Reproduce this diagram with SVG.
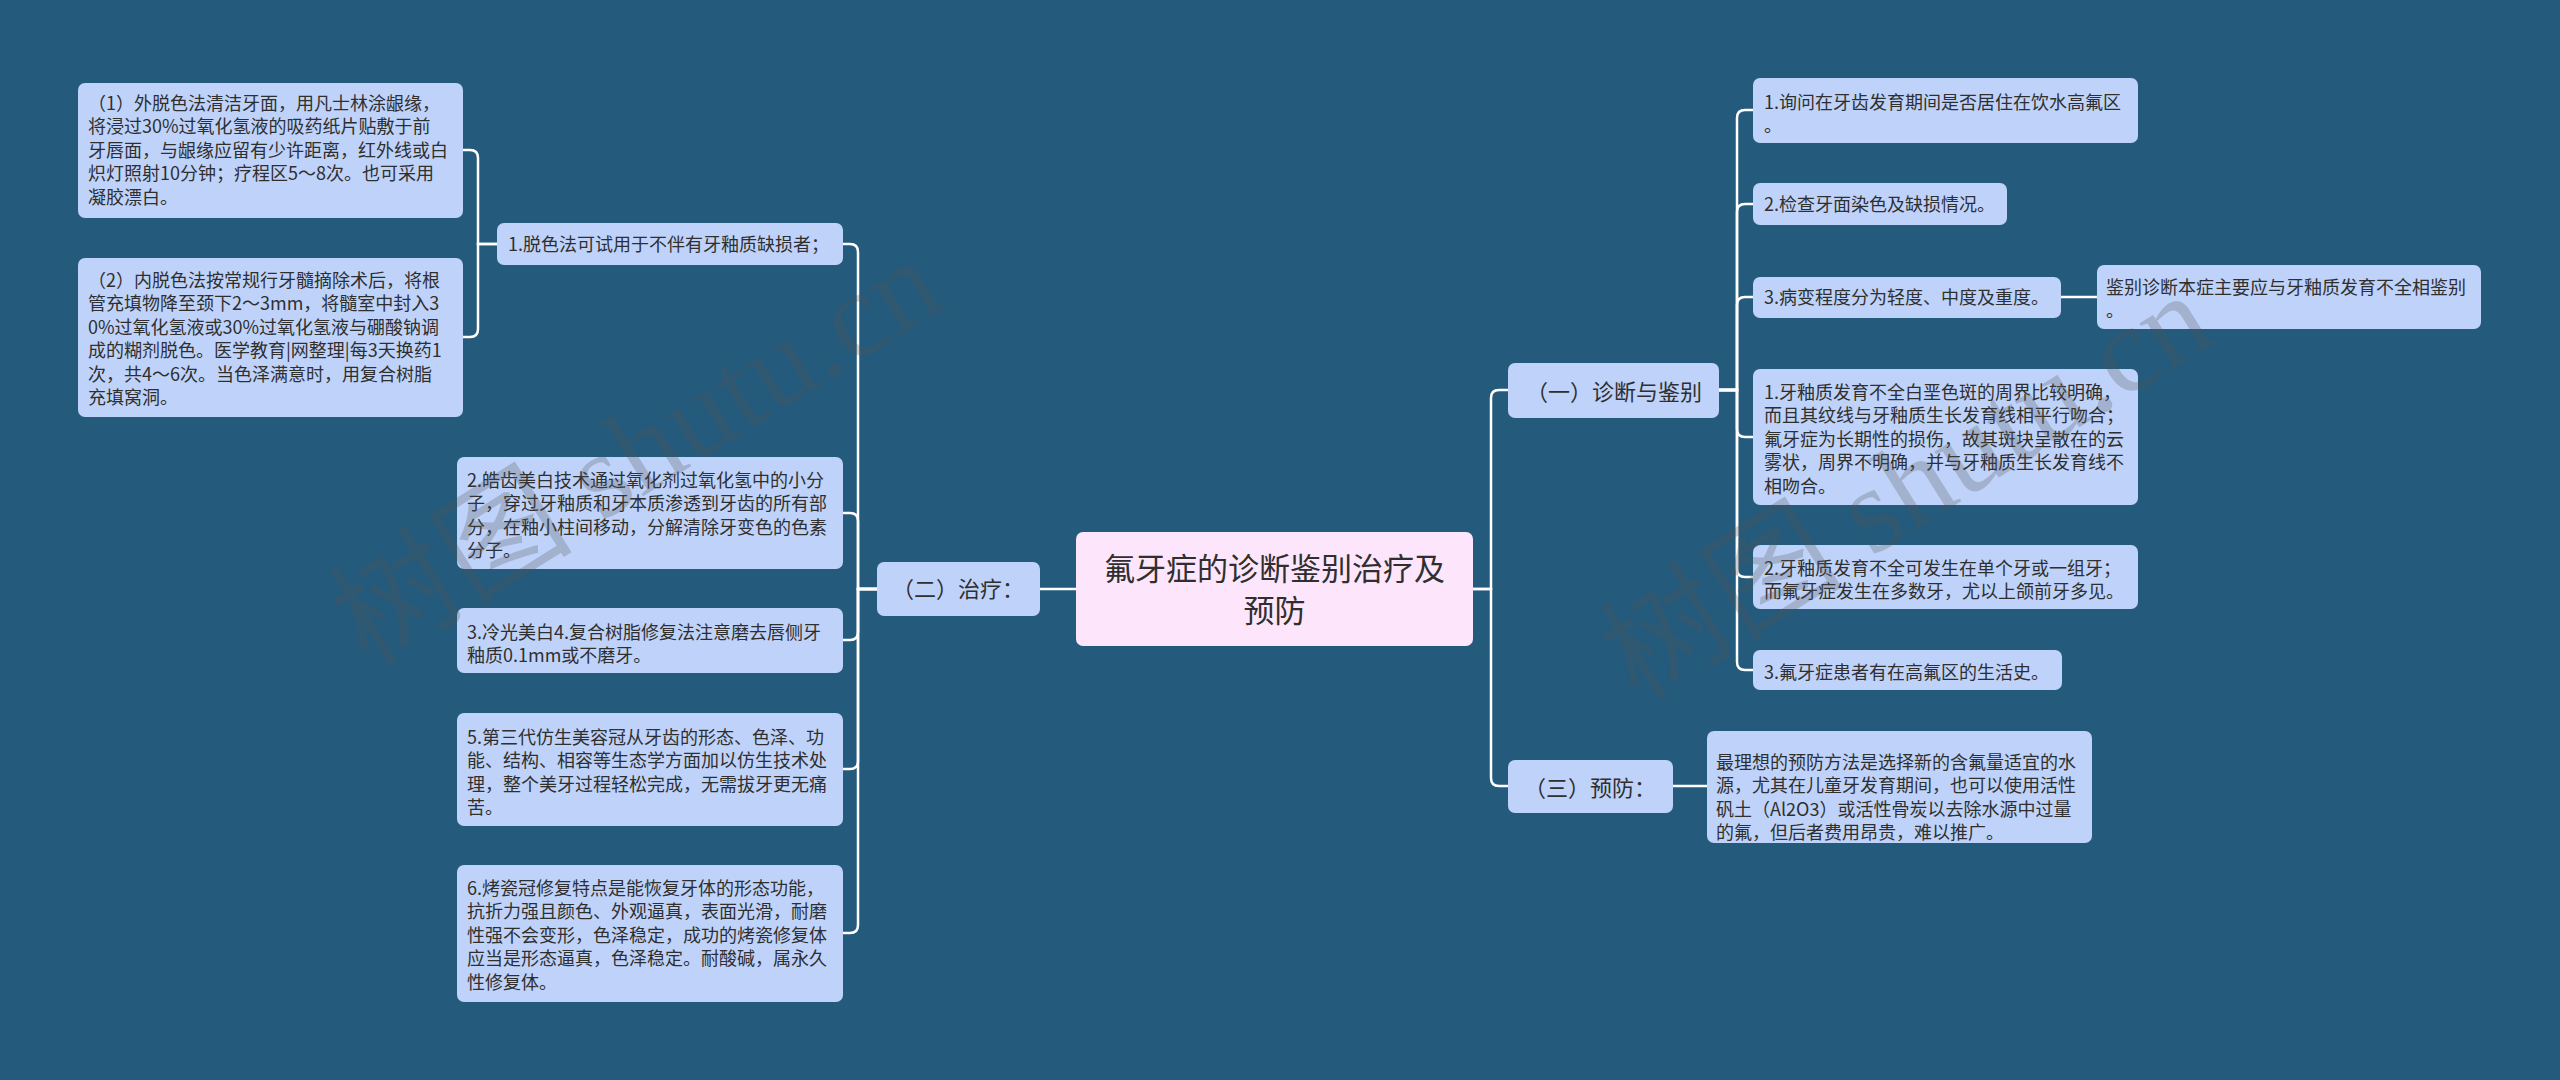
<svg xmlns="http://www.w3.org/2000/svg" width="2560" height="1080" viewBox="0 0 2560 1080">
<style>
.bg{fill:#245a7c}
.n{fill:#bfd3fa}
.root{fill:#fde5fc}
.t{font-family:"Noto Sans CJK SC","Microsoft YaHei",sans-serif;font-size:18px;fill:#2f2f2f}
.t2{font-family:"Noto Sans CJK SC","Microsoft YaHei",sans-serif;font-size:22px;fill:#2f2f2f}
.t3{font-family:"Noto Sans CJK SC","Microsoft YaHei",sans-serif;font-size:31px;fill:#2f2f2f}
.c{fill:none;stroke:#ffffff;stroke-width:2.5}
.wm{font-family:"Liberation Serif","Noto Sans CJK SC",serif;font-size:122px;fill:#555555;fill-opacity:0.27}
</style>
<rect class="bg" x="0" y="0" width="2560" height="1080"/>
<g id="connectors">
<path class="c" d="M1076,589 H1040"/>
<path class="c" d="M877,589 H858 V252 Q858,244 850,244 H843"/>
<path class="c" d="M877,589 H858 V521 Q858,513 850,513 H843"/>
<path class="c" d="M877,589 H858 V632 Q858,640 850,640 H843"/>
<path class="c" d="M877,589 H858 V761 Q858,769 850,769 H843"/>
<path class="c" d="M877,589 H858 V925 Q858,933 850,933 H843"/>
<path class="c" d="M497,244 H478 V158 Q478,150 470,150 H463"/>
<path class="c" d="M497,244 H478 V329 Q478,337 470,337 H463"/>
<path class="c" d="M1473,589 H1491 V398 Q1491,390 1499,390 H1508"/>
<path class="c" d="M1473,589 H1491 V778 Q1491,786 1499,786 H1508"/>
<path class="c" d="M1719,390 H1737 V118 Q1737,110 1745,110 H1753"/>
<path class="c" d="M1719,390 H1737 V212 Q1737,204 1745,204 H1753"/>
<path class="c" d="M1719,390 H1737 V305 Q1737,297 1745,297 H1753"/>
<path class="c" d="M1719,390 H1737 V429 Q1737,437 1745,437 H1753"/>
<path class="c" d="M1719,390 H1737 V569 Q1737,577 1745,577 H1753"/>
<path class="c" d="M1719,390 H1737 V662 Q1737,670 1745,670 H1753"/>
<path class="c" d="M2061,297 H2097"/>
<path class="c" d="M1673,786 H1707"/>
</g>
<g id="root">
<rect class="root" x="1076" y="532" width="397" height="114" rx="7"/>
<text class="t3" x="1274.5" y="579.5" text-anchor="middle">氟牙症的诊断鉴别治疗及</text>
<text class="t3" x="1274.5" y="622" text-anchor="middle">预防</text>
</g>
<g id="n-zhiliao">
<rect class="n" x="877" y="562" width="163" height="54" rx="7"/>
<text class="t2" x="892" y="597">（二）治疗：</text>
</g>
<g id="n-tuose">
<rect class="n" x="497" y="223" width="346" height="42" rx="7"/>
<text class="t" x="508" y="250.5">1.脱色法可试用于不伴有牙釉质缺损者；</text>
</g>
<g id="n-wai">
<rect class="n" x="78" y="83" width="385" height="135" rx="7"/>
<text class="t" x="88" y="109.5">（1）外脱色法清洁牙面，用凡士林涂龈缘，</text>
<text class="t" x="88" y="133">将浸过30%过氧化氢液的吸药纸片贴敷于前</text>
<text class="t" x="88" y="156.5">牙唇面，与龈缘应留有少许距离，红外线或白</text>
<text class="t" x="88" y="180">炽灯照射10分钟；疗程区5～8次。也可采用</text>
<text class="t" x="88" y="203.5">凝胶漂白。</text>
</g>
<g id="n-nei">
<rect class="n" x="78" y="258" width="385" height="159" rx="7"/>
<text class="t" x="88" y="286.5">（2）内脱色法按常规行牙髓摘除术后，将根</text>
<text class="t" x="88" y="310">管充填物降至颈下2～3mm，将髓室中封入3</text>
<text class="t" x="88" y="333.5">0%过氧化氢液或30%过氧化氢液与硼酸钠调</text>
<text class="t" x="88" y="357">成的糊剂脱色。医学教育|网整理|每3天换药1</text>
<text class="t" x="88" y="380.5">次，共4～6次。当色泽满意时，用复合树脂</text>
<text class="t" x="88" y="404">充填窝洞。</text>
</g>
<g id="n-haochi">
<rect class="n" x="457" y="457" width="386" height="112" rx="7"/>
<text class="t" x="467" y="486.5">2.皓齿美白技术通过氧化剂过氧化氢中的小分</text>
<text class="t" x="467" y="510">子，穿过牙釉质和牙本质渗透到牙齿的所有部</text>
<text class="t" x="467" y="533.5">分，在釉小柱间移动，分解清除牙变色的色素</text>
<text class="t" x="467" y="557">分子。</text>
</g>
<g id="n-lengguang">
<rect class="n" x="457" y="608" width="386" height="65" rx="7"/>
<text class="t" x="467" y="638.5">3.冷光美白4.复合树脂修复法注意磨去唇侧牙</text>
<text class="t" x="467" y="662">釉质0.1mm或不磨牙。</text>
</g>
<g id="n-fangsheng">
<rect class="n" x="457" y="713" width="386" height="113" rx="7"/>
<text class="t" x="467" y="743.5">5.第三代仿生美容冠从牙齿的形态、色泽、功</text>
<text class="t" x="467" y="767">能、结构、相容等生态学方面加以仿生技术处</text>
<text class="t" x="467" y="790.5">理，整个美牙过程轻松完成，无需拔牙更无痛</text>
<text class="t" x="467" y="814">苦。</text>
</g>
<g id="n-kaoci">
<rect class="n" x="457" y="865" width="386" height="137" rx="7"/>
<text class="t" x="467" y="894.5">6.烤瓷冠修复特点是能恢复牙体的形态功能，</text>
<text class="t" x="467" y="918">抗折力强且颜色、外观逼真，表面光滑，耐磨</text>
<text class="t" x="467" y="941.5">性强不会变形，色泽稳定，成功的烤瓷修复体</text>
<text class="t" x="467" y="965">应当是形态逼真，色泽稳定。耐酸碱，属永久</text>
<text class="t" x="467" y="988.5">性修复体。</text>
</g>
<g id="n-zhenduan">
<rect class="n" x="1508" y="363" width="211" height="55" rx="7"/>
<text class="t2" x="1526" y="400">（一）诊断与鉴别</text>
</g>
<g id="n-yufang">
<rect class="n" x="1508" y="760" width="165" height="53" rx="7"/>
<text class="t2" x="1524" y="796">（三）预防：</text>
</g>
<g id="n-xunwen">
<rect class="n" x="1753" y="78" width="385" height="65" rx="7"/>
<text class="t" x="1764" y="108.5">1.询问在牙齿发育期间是否居住在饮水高氟区</text>
<text class="t" x="1764" y="132">。</text>
</g>
<g id="n-jiancha">
<rect class="n" x="1753" y="183" width="254" height="42" rx="7"/>
<text class="t" x="1764" y="210.5">2.检查牙面染色及缺损情况。</text>
</g>
<g id="n-bingbian">
<rect class="n" x="1753" y="277" width="308" height="41" rx="7"/>
<text class="t" x="1764" y="303.5">3.病变程度分为轻度、中度及重度。</text>
</g>
<g id="n-jianbie">
<rect class="n" x="2097" y="265" width="384" height="64" rx="7"/>
<text class="t" x="2106" y="293.5">鉴别诊断本症主要应与牙釉质发育不全相鉴别</text>
<text class="t" x="2106" y="317">。</text>
</g>
<g id="n-d1">
<rect class="n" x="1753" y="369" width="385" height="136" rx="7"/>
<text class="t" x="1764" y="398.5">1.牙釉质发育不全白垩色斑的周界比较明确，</text>
<text class="t" x="1764" y="422">而且其纹线与牙釉质生长发育线相平行吻合；</text>
<text class="t" x="1764" y="445.5">氟牙症为长期性的损伤，故其斑块呈散在的云</text>
<text class="t" x="1764" y="469">雾状，周界不明确，并与牙釉质生长发育线不</text>
<text class="t" x="1764" y="492.5">相吻合。</text>
</g>
<g id="n-d2">
<rect class="n" x="1753" y="545" width="385" height="64" rx="7"/>
<text class="t" x="1764" y="574.5">2.牙釉质发育不全可发生在单个牙或一组牙；</text>
<text class="t" x="1764" y="598">而氟牙症发生在多数牙，尤以上颌前牙多见。</text>
</g>
<g id="n-d3">
<rect class="n" x="1753" y="650" width="309" height="40" rx="7"/>
<text class="t" x="1764" y="678.5">3.氟牙症患者有在高氟区的生活史。</text>
</g>
<g id="n-yufang-text">
<rect class="n" x="1707" y="731" width="385" height="112" rx="7"/>
<text class="t" x="1716" y="768.5">最理想的预防方法是选择新的含氟量适宜的水</text>
<text class="t" x="1716" y="792">源，尤其在儿童牙发育期间，也可以使用活性</text>
<text class="t" x="1716" y="815.5">矾土（Al2O3）或活性骨炭以去除水源中过量</text>
<text class="t" x="1716" y="839">的氟，但后者费用昂贵，难以推广。</text>
</g>
<g id="watermarks">
<text class="wm" transform="translate(368,668) rotate(-32)">树图 shutu.cn</text>
<text class="wm" transform="translate(1638,703) rotate(-32)">树图 shutu.cn</text>
</g>
</svg>
